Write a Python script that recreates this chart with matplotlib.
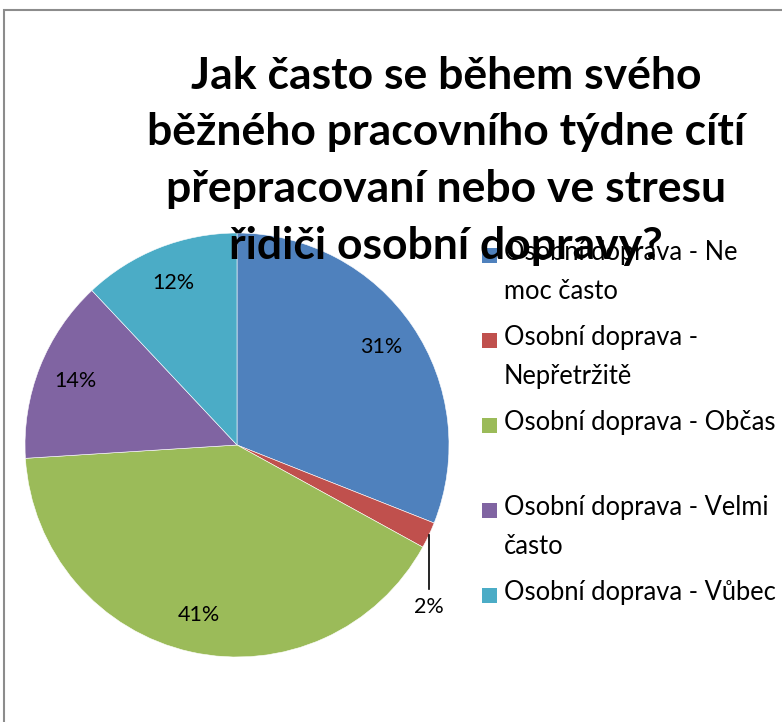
import numpy as np
import matplotlib
import matplotlib.pyplot as plt
from matplotlib.patches import Rectangle

plt.rcParams['font.family'] = ['Lato', 'DejaVu Sans']

title = "Jak často se během svého\nběžného pracovního týdne cítí\npřepracovaní nebo ve stresu\nřidiči osobní dopravy?"
labels = ['Osobní doprava - Ne\nmoc často',
          'Osobní doprava -\nNepřetržitě',
          'Osobní doprava - Občas',
          'Osobní doprava - Velmi\nčasto',
          'Osobní doprava - Vůbec']
values = [31, 2, 41, 14, 12]
colors = ['#4F81BD', '#C0504D', '#9BBB59', '#8064A2', '#4BACC6']

W, H = 782, 722
fig = plt.figure(figsize=(W / 100, H / 100), dpi=100)


def fx(px):
    return px / W


def fy(py):
    return 1 - py / H


# outer grey frame (cut off at right and bottom)
fig.patches.append(Rectangle((fx(4), fy(H + 20)), 2, fy(10) - fy(H + 20),
                             transform=fig.transFigure, fill=False,
                             edgecolor='#8c8c8c', linewidth=1.5))

cx, cy, r = 237, 445, 212
ax = fig.add_axes([fx(cx - r), fy(cy + r), 2 * r / W, 2 * r / H])
wedges, texts, autotexts = ax.pie(values, colors=colors, startangle=90,
                                  counterclock=False, radius=1,
                                  autopct=lambda p: f'{p:.0f}%',
                                  pctdistance=0.82,
                                  wedgeprops=dict(edgecolor='white', linewidth=0.4),
                                  textprops=dict(fontsize=15.5, color='black'))
ax.set_xlim(-1, 1)
ax.set_ylim(-1, 1)
ax.axis('off')

# small slice: label outside with a leader line
w = wedges[1]
mid = np.deg2rad((w.theta1 + w.theta2) / 2)
lx, ly = np.cos(mid), np.sin(mid)
ax.plot([lx, lx], [ly, -0.68], color='black', linewidth=1.2, clip_on=False)
autotexts[1].set_position((lx, -0.765))

# legend drawn as in the source chart
for i, (lab, col) in enumerate(zip(labels, colors)):
    y = 255 + 85 * i
    fig.patches.append(Rectangle((fx(482), fy(y + 8)), 15 / W, 15 / H,
                                 transform=fig.transFigure, facecolor=col,
                                 edgecolor='none'))
    fig.text(fx(504), fy(y - 15), lab, fontsize=18.4, va='top', ha='left',
             linespacing=1.7)

fig.text(fx(446), fy(56), title, fontsize=32, fontweight='bold',
         ha='center', va='top', linespacing=1.5, zorder=10)

fig.savefig('out.png', dpi=100)
